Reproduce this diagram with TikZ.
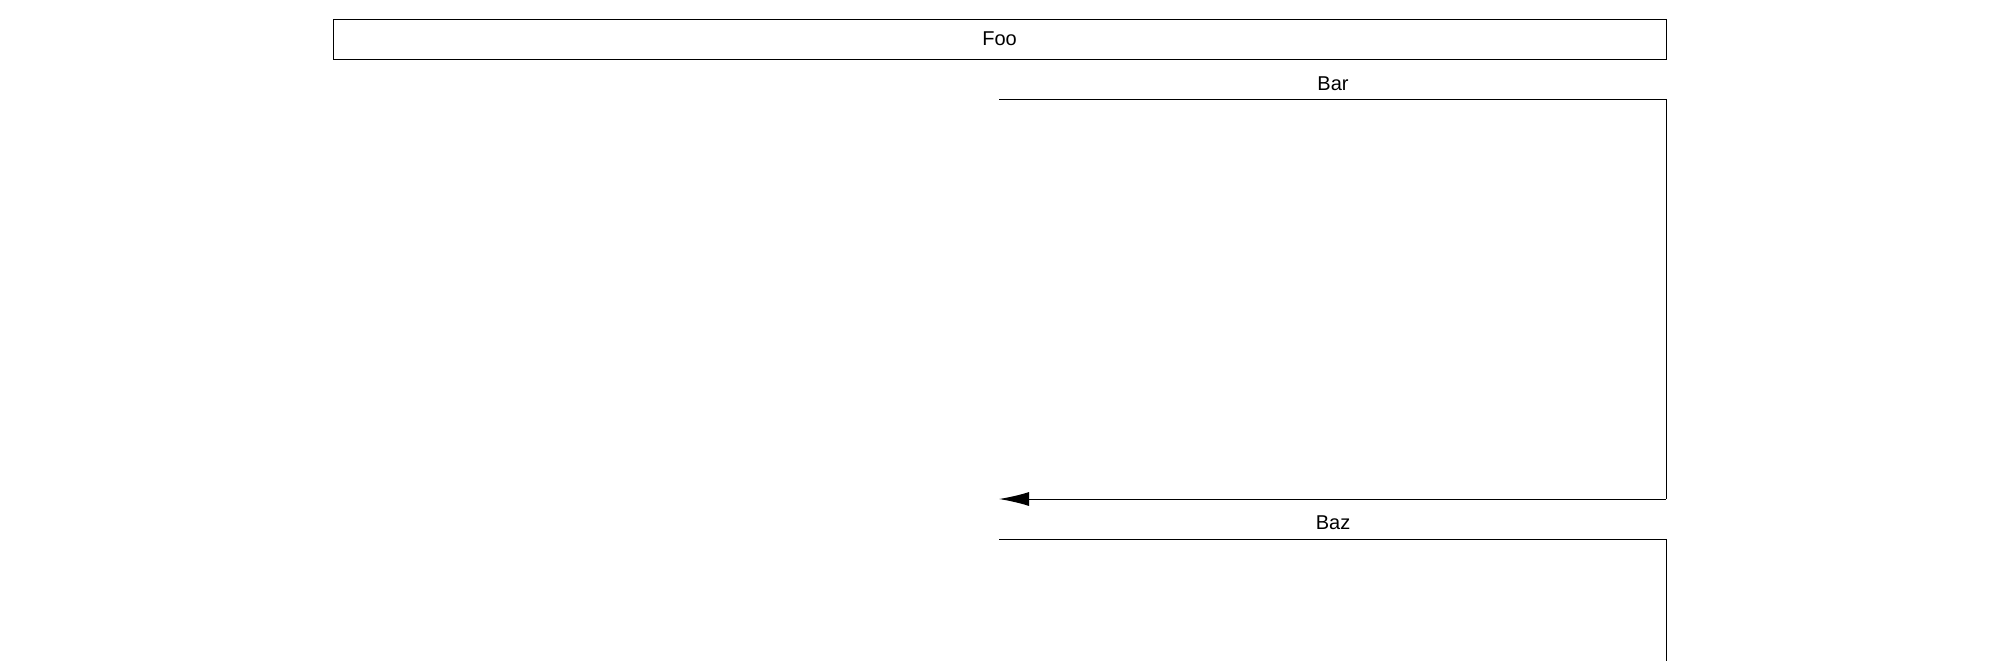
\documentclass[tikz,border=0pt]{standalone}
\usepackage{fontspec}
\setmainfont{Liberation Sans}
\usetikzlibrary{arrows.meta}
\begin{document}
\begin{tikzpicture}[x=0.5pt,y=-0.5pt,
  every node/.style={font=\fontsize{10}{12}\selectfont},
  lbl/.style={inner sep=0pt},
  boxed/.style={draw,line width=0.5pt,inner sep=0pt,minimum width=666.5pt,minimum height=20pt},
  conn/.style={line width=0.5pt},
  tip/.style={-{Latex[length=15pt,width=7pt]}}]
\useasboundingbox (0,0) rectangle (2000,660);
\node[boxed] (foo) at (999.5,39) {Foo};
\node[lbl] (bar) at (1333,84) {Bar};
\node[lbl] (baz) at (1333,523) {Baz};
\coordinate (b1) at (999,99);
\coordinate (b2) at (1666,99);
\coordinate (b3) at (1666,499);
\coordinate (b4) at (999,499);
\coordinate (c1) at (999,539);
\coordinate (c2) at (1666,539);
\coordinate (c3) at (1666,670);
\draw[conn] (b1) -- (b2) -- (b3);
\draw[conn,tip] (b3) -- (b4);
\draw[conn] (c1) -- (c2) -- (c3);
\end{tikzpicture}
\end{document}
